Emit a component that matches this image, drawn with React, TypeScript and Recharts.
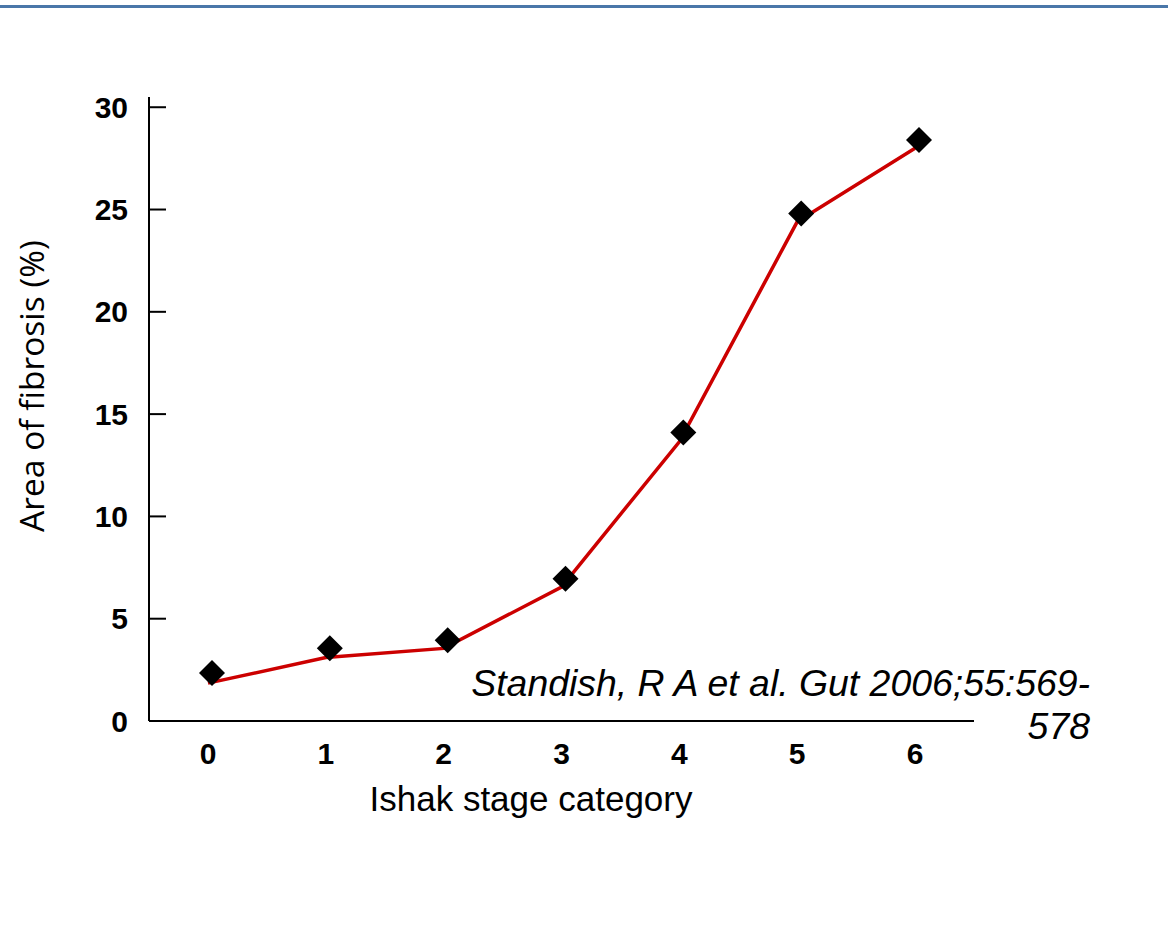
import { LineChart, Line, XAxis, YAxis, Label } from 'recharts';

// Ishak stage vs area of fibrosis (Standish et al. 2006)
const stages = ['0', '1', '2', '3', '4', '5', '6'];
const measured = [2.35, 3.55, 3.95, 6.95, 14.1, 24.8, 28.4];
const fitted = [1.85, 3.1, 3.55, 6.55, 13.65, 24.4, 28.0];
const yTicks = [0, 5, 10, 15, 20, 25, 30];

const data = stages.map((s, i) => ({ stage: s, measured: measured[i], fitted: fitted[i] }));

const font = '"Liberation Sans", Arial, sans-serif';

const DiamondDot = (props: any) => {
    const { cx, cy, index } = props;
    if (cx == null || cy == null) return null;
    const x = cx + 4;
    const r = 13;
    return (
        <path
            key={`dia-${index}`}
            d={`M${x},${cy - r}L${x + r},${cy}L${x},${cy + r}L${x - r},${cy}Z`}
            fill="#000"
        />
    );
};

const YTick = (props: any) => {
    const { x, y, payload } = props;
    return (
        <g>
            {payload.value !== 0 && (
                <line x1={x + 21} x2={x + 38} y1={y} y2={y} stroke="#000" strokeWidth={2} />
            )}
            <text x={x} y={y} textAnchor="end" dominantBaseline="central" fontSize={30} fontWeight="bold" fill="#000" fontFamily={font}>
                {payload.value}
            </text>
        </g>
    );
};

export default function App() {
    return (
        <div style={{ position: 'fixed', left: 0, top: 0, width: 1168, height: 928, background: '#fff', overflow: 'hidden' }}>
            <LineChart
                width={1168}
                height={928}
                data={data}
                margin={{ top: 97, right: 194, bottom: 107, left: 89 }}
                style={{ fontFamily: font }}
            >
                <XAxis
                    dataKey="stage"
                    height={100}
                    padding={{ left: 59, right: 59 }}
                    axisLine={{ stroke: '#000', strokeWidth: 2 }}
                    tickLine={false}
                    tickSize={0}
                    tickMargin={22}
                    tick={{ fill: '#000', fontSize: 30, fontWeight: 'bold', fontFamily: font }}
                >
                    <Label
                        content={(p: any) => {
                            const vb = p.viewBox;
                            return (
                                <text x={vb.x + vb.width / 2 - 30.5} y={vb.y + 90} textAnchor="middle" fontSize={35} fill="#000" fontFamily={font}>
                                    Ishak stage category
                                </text>
                            );
                        }}
                    />
                </XAxis>
                <YAxis
                    width={60}
                    domain={[0, 30.5]}
                    ticks={yTicks}
                    axisLine={{ stroke: '#000', strokeWidth: 2 }}
                    tickLine={false}
                    tickSize={0}
                    tickMargin={21}
                    tick={<YTick />}
                >
                    <Label
                        content={(p: any) => {
                            const vb = p.viewBox;
                            const x = vb.x - 45.5;
                            const y = vb.y + vb.height / 2 - 23;
                            return (
                                <text x={x} y={y} transform={`rotate(-90, ${x}, ${y})`} textAnchor="middle" fontSize={33.5} fill="#000" fontFamily='"Open Sans", sans-serif'>
                                    Area of fibrosis (%)
                                </text>
                            );
                        }}
                    />
                </YAxis>
                <Line dataKey="measured" stroke="none" dot={<DiamondDot />} activeDot={false} isAnimationActive={false} />
                <Line dataKey="fitted" type="linear" stroke="#cc0000" strokeWidth={3.5} dot={false} activeDot={false} isAnimationActive={false} />
            </LineChart>
            <div style={{ position: 'absolute', left: 0, top: 5, width: 1168, height: 3, background: '#4a77a9', zIndex: 2 }} />
            <div
                style={{
                    position: 'absolute',
                    right: 78,
                    top: 662,
                    fontFamily: font,
                    fontStyle: 'italic',
                    fontSize: 37.4,
                    lineHeight: '43px',
                    textAlign: 'right',
                    whiteSpace: 'nowrap',
                    color: '#000',
                    zIndex: 2,
                }}
            >
                Standish, R A et al. Gut 2006;55:569-
                <br />
                578
            </div>
        </div>
    );
}
